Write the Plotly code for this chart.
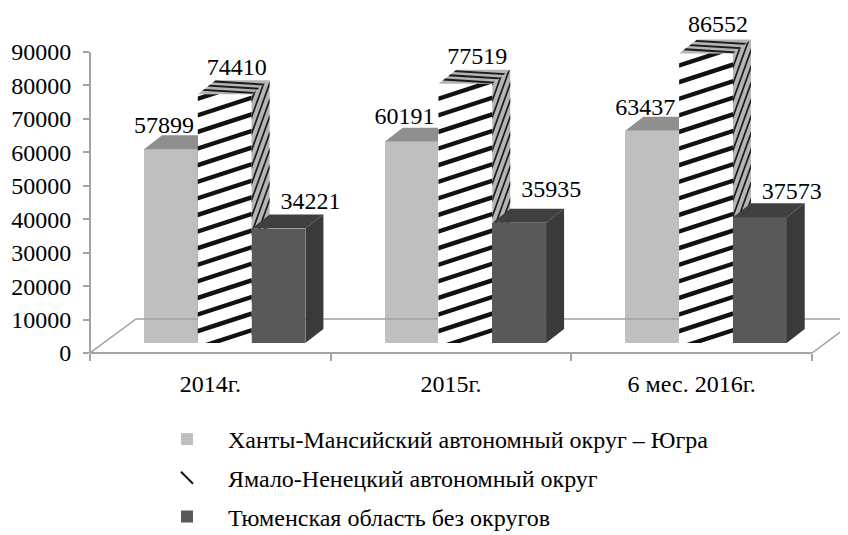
import plotly.graph_objects as go

# ---- data ----
periods = ["2014г.", "2015г.", "6 мес. 2016г."]
khmao = [57899, 60191, 63437]
yanao = [74410, 77519, 86552]
tyumen = [34221, 35935, 37573]
series_names = ["Ханты-Мансийский автономный округ – Югра",
                "Ямало-Ненецкий автономный округ",
                "Тюменская область без округов"]
y_ticks = [0, 10000, 20000, 30000, 40000, 50000, 60000, 70000, 80000, 90000]

# ---- layout constants (image pixels; the page has an 8 px body margin) ----
W, H = 848, 535
PAGE = 8
EXTRA = 8                        # canvas runs a little below the window so the legend fits
L, R, T, B = 90, 812, 52, 353    # axis box
PT, PR = 8, 848                  # the plot area reaches further so depth faces are not clipped
YTOP = 90000
FONT = "Liberation Serif, Times New Roman, serif"
AXIS = "#a3a3a3"
sx = 3 / (R - L)             # x units per pixel
sy = YTOP / (B - T)          # y units per pixel
XMAX = (PR - L) * sx
YMAX = (B - PT) * sy
BASE = 10 * sy               # bars stand on the floor, 10 px above the axis
BAR_W = 53.8 * sx
FIRST = 54 * sx              # left edge of first bar in a group
DX, DY = 18 * sx, 14 * sy    # depth of the bar box
FLOOR_DX, FLOOR_DY = 46 * sx, 34 * sy
LABEL_SHIFT = [-7 * sx, 12 * sx, 32 * sx]
LABEL_LIFT = [[-4, -2, -4], [-1, 0, 2], [0, 6, -2]]   # manual label nudges, px


def clip(poly, keep, cross):
    out = []
    for i, p in enumerate(poly):
        q = poly[(i + 1) % len(poly)]
        if keep(p):
            out.append(p)
        if keep(p) != keep(q):
            out.append(cross(p, q))
    return out


def stripes(y_height, slope, period, thick, phase):
    """Stripe polygons in face coordinates (u 0..1 across, v 0..y_height up, v in px)."""
    polys = []
    a = -slope - period + phase
    while a < y_height + period:
        poly = [(0, a), (1, a + slope), (1, a + slope + thick), (0, a + thick)]
        def cr(level):
            return lambda p, q: (p[0] + (q[0] - p[0]) * (level - p[1]) / (q[1] - p[1]), level)
        poly = clip(poly, lambda p: p[1] >= 0, cr(0))
        if poly:
            poly = clip(poly, lambda p: p[1] <= y_height, cr(y_height))
        if len(poly) >= 3:
            polys.append(poly)
        a += period
    return polys


def add_polys(fig, polys, color, ax):
    xs, ys = [], []
    for poly in polys:
        for px_, py_ in poly + poly[:1]:
            xs.append(px_)
            ys.append(py_)
        xs.append(None)
        ys.append(None)
    fig.add_trace(go.Scatter(x=xs, y=ys, mode="lines", fill="toself", fillcolor=color,
                             line=dict(width=0, color=color), hoverinfo="skip",
                             showlegend=False, cliponaxis=False,
                             xaxis=ax[0], yaxis=ax[1]))


fig = go.Figure()
axes_ids = [("x", "y"), ("x2", "y2"), ("x3", "y3")]

# floor outline
fig.add_trace(go.Scatter(
    x=[0, FLOOR_DX, 3 + FLOOR_DX, 3], y=[0, FLOOR_DY, FLOOR_DY, 0], mode="lines",
    line=dict(color=AXIS, width=1.5), hoverinfo="skip", showlegend=False))

styles = [dict(front="#bfbfbf", top="#8f8f8f", side="#8f8f8f"),
          dict(front="#ffffff", top="#b4b4b4", side="#b4b4b4"),
          dict(front="#595959", top="#404040", side="#3a3a3a")]
columns = [khmao, yanao, tyumen]

for s, values in enumerate(columns):
    ax = axes_ids[s]
    st = styles[s]
    centers = [g + FIRST + BAR_W * (s + 0.5) for g in range(3)]
    fig.add_trace(go.Bar(x=centers, y=values, base=[BASE] * 3, width=BAR_W,
                         name=series_names[s], showlegend=False,
                         marker=dict(color=st["front"], line=dict(width=0)),
                         xaxis=ax[0], yaxis=ax[1]))
    tops, sides = [], []
    for c, v in zip(centers, values):
        x0, x1 = c - BAR_W / 2, c + BAR_W / 2
        y1 = BASE + v
        tops.append([(x0, y1), (x1, y1), (x1 + DX, y1 + DY), (x0 + DX, y1 + DY)])
        sides.append([(x1, BASE), (x1 + DX, BASE + DY), (x1 + DX, y1 + DY), (x1, y1)])
    add_polys(fig, sides, st["side"], ax)
    add_polys(fig, tops, st["top"], ax)

    if s == 1:
        front_p, side_p, top_p = [], [], []
        for c, v in zip(centers, values):
            x0 = c - BAR_W / 2
            x1 = c + BAR_W / 2
            h = v / sy
            for poly in stripes(h, 17.5, 16.6, 4.6, 10.5):
                front_p.append([(x0 + u * BAR_W, BASE + w * sy) for u, w in poly])
            for poly in stripes(h, 36, 16.6, 5.0, 10.5):
                side_p.append([(x1 + u * DX, BASE + (w + u * 14) * sy) for u, w in poly])
            t = 0.13
            for dr in (0.02, 0.32, 0.62):
                dl = dr + 0.22
                top_p.append([(x0 + dl * DX, BASE + v + dl * DY),
                              (x1 + dr * DX, BASE + v + dr * DY),
                              (x1 + (dr + t) * DX, BASE + v + (dr + t) * DY),
                              (x0 + (dl + t) * DX, BASE + v + (dl + t) * DY)])
        add_polys(fig, side_p, "#1c1c1c", ax)
        add_polys(fig, top_p, "#1c1c1c", ax)
        add_polys(fig, front_p, "#111111", ax)

# data labels (topmost layer)
for s, values in enumerate(columns):
    centers = [g + FIRST + BAR_W * (s + 0.5) + LABEL_SHIFT[s] for g in range(3)]
    fig.add_trace(go.Scatter(x=centers,
                             y=[BASE + v + DY + lift * sy for v, lift in zip(values, LABEL_LIFT[s])],
                             mode="text",
                             text=[str(v) for v in values], textposition="top center",
                             textfont=dict(family=FONT, size=24, color="#000000"),
                             hoverinfo="skip", showlegend=False, cliponaxis=False,
                             xaxis="x3", yaxis="y3"))

# legend entries
legend_markers = [dict(symbol="square", size=10, color="#bfbfbf"),
                  dict(symbol="line-nw", size=11, color="#111111",
                       line=dict(width=3.5, color="#111111")),
                  dict(symbol="square", size=10, color="#595959")]
for s, name in enumerate(series_names):
    fig.add_trace(go.Scatter(x=[None], y=[None], mode="markers", name=name,
                             legendgroup=f"g{s}", marker=legend_markers[s]))

fig.update_layout(
    width=W - PAGE, height=H - PAGE + EXTRA, autosize=False,
    margin=dict(l=L - PAGE, r=W - PR, t=PT - PAGE, b=H - B + EXTRA, pad=0),
    paper_bgcolor="#ffffff", plot_bgcolor="#ffffff",
    showlegend=True, bargap=0,
    font=dict(family=FONT, color="#000000"),
    legend=dict(x=(146 - L) / (PR - L), y=(B - 417) / (B - PT), xanchor="left", yanchor="top",
                font=dict(family=FONT, size=24, color="#000000"),
                traceorder="grouped", tracegroupgap=4.5, itemsizing="constant", itemwidth=72,
                bgcolor="rgba(0,0,0,0)"),
    xaxis=dict(range=[0, XMAX], tickvals=[0.5, 1.5, 2.5], ticktext=periods,
               ticks="", showgrid=False, zeroline=False, showline=False,
               automargin=False, fixedrange=True,
               tickfont=dict(family=FONT, size=24, color="#000000"), ticklabelstandoff=14,
               minor=dict(tickvals=[0, 1, 2, 3], ticks="outside", ticklen=7, tickwidth=2,
                          tickcolor=AXIS, showgrid=False)),
    yaxis=dict(range=[0, YMAX], tickvals=y_ticks, ticktext=[str(v) for v in y_ticks],
               ticks="outside", ticklen=6, tickwidth=2, tickcolor=AXIS,
               showgrid=False, zeroline=False, showline=False,
               automargin=False, fixedrange=True, ticklabelstandoff=7,
               tickfont=dict(family=FONT, size=24, color="#000000")),
    xaxis2=dict(range=[0, XMAX], overlaying="x", visible=False, fixedrange=True),
    yaxis2=dict(range=[0, YMAX], overlaying="y", visible=False, fixedrange=True),
    xaxis3=dict(range=[0, XMAX], overlaying="x", visible=False, fixedrange=True),
    yaxis3=dict(range=[0, YMAX], overlaying="y", visible=False, fixedrange=True),
    shapes=[
        dict(type="line", xref="paper", yref="paper", x0=0, x1=3 / XMAX, y0=0, y1=0,
             line=dict(color=AXIS, width=2)),
        dict(type="line", xref="paper", yref="paper", x0=0, x1=0, y0=0, y1=YTOP / YMAX,
             line=dict(color=AXIS, width=2)),
    ],
)

fig.write_html("out.html", post_script="document.documentElement.style.overflow='hidden';")
